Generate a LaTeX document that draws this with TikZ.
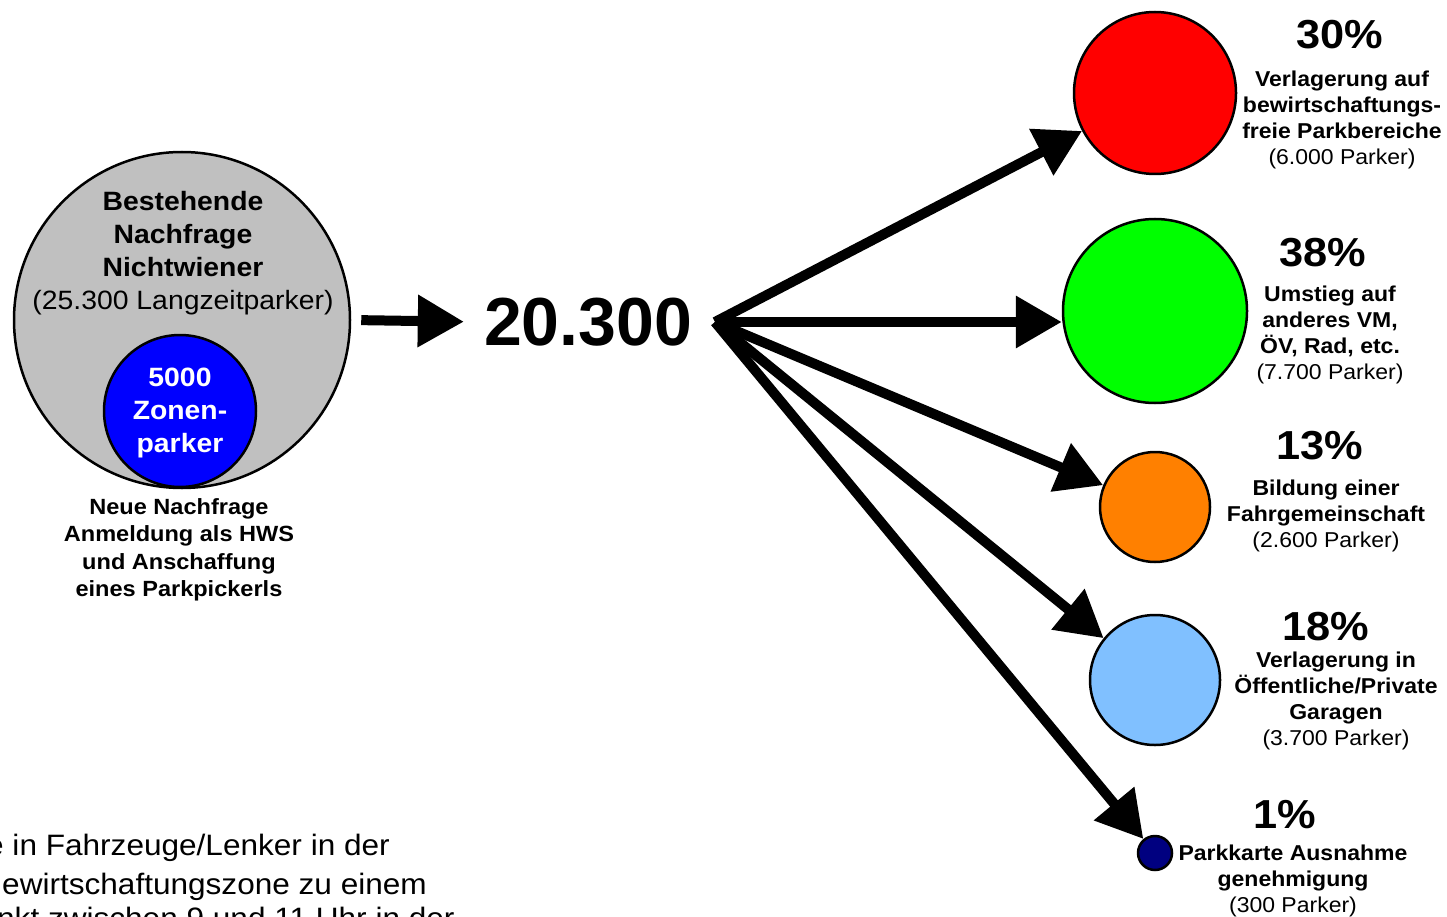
\documentclass[tikz,border=0pt]{standalone}
\usepackage{fontspec}
\setmainfont[FakeStretch=1.07]{Liberation Sans}
\newfontfamily\plainfont{Liberation Sans}
\usetikzlibrary{arrows.meta}

\definecolor{discgray}{HTML}{C0C0C0}
\definecolor{discblue}{HTML}{0000FF}
\definecolor{discred}{HTML}{FF0000}
\definecolor{discgreen}{HTML}{00FF00}
\definecolor{discorange}{HTML}{FF8000}
\definecolor{disclight}{HTML}{80C0FF}
\definecolor{discnavy}{HTML}{000080}

\tikzset{
  disc/.style={circle, draw=black, line width=2.5pt, inner sep=0pt, minimum size=#1},
  bigarrow/.style={line width=10pt, -{Triangle[length=46pt,width=50pt]}},
  pct/.style={inner sep=0pt, font=\fontsize{40.5}{42}\selectfont\bfseries},
  lbl/.style={align=center, inner sep=0pt, font=\fontsize{21.5}{26}\selectfont\bfseries},
  note/.style={anchor=base west, inner sep=0pt, font=\fontsize{29.5}{39}\selectfont},
}

\begin{document}
\begin{tikzpicture}[x=1pt,y=-1pt]
\useasboundingbox (0,0) rectangle (1447,917);
\clip (0,0) rectangle (1447,917);

%Shape: Circle
\node (gray) [disc=336pt, fill=discgray] at (182,320) {};
%Shape: Circle
\node (blue) [disc=152pt, fill=discblue] at (180,411) {};

% Text Node
\node (grayText) [align=center, inner sep=0pt, font=\fontsize{26.5}{33}\selectfont] at (183,253)
  {\textbf{Bestehende}\\ \textbf{Nachfrage}\\ \textbf{Nichtwiener}\\ (25.300 Langzeitparker)};
% Text Node
\node (blueText) [align=center, inner sep=0pt, text=white, font=\fontsize{26.5}{33}\selectfont\bfseries] at (180,413)
  {5000\\ Zonen-\\ parker};
% Text Node
\node (newText) [lbl, font=\fontsize{22}{27.5}\selectfont\bfseries] at (179,550)
  {Neue Nachfrage\\ Anmeldung als HWS\\ und Anschaffung\\ eines Parkpickerls};

% Text Node
\node (total) [inner sep=0pt, font=\plainfont\fontsize{68}{70}\selectfont\bfseries] at (588,322) {20.300};
\coordinate (hub) at (715,322);

%Shape: Circle
\node (red) [disc=162pt, fill=discred] at (1155,93) {};
%Shape: Circle
\node (green) [disc=184pt, fill=discgreen] at (1155,311) {};
%Shape: Circle
\node (orange) [disc=110pt, fill=discorange] at (1155,507) {};
%Shape: Circle
\node (light) [disc=130pt, fill=disclight] at (1155,680) {};
%Shape: Circle
\node (navy) [disc=34pt, fill=discnavy] at (1155,853) {};

%Straight Lines
\draw [bigarrow, shorten <=10pt, shorten >=20pt] (gray.east) -- (total.west);
%Straight Lines
\draw [bigarrow] (hub) -- (red);
%Straight Lines
\draw [bigarrow] (hub) -- (hub -| green.west);
%Straight Lines
\draw [bigarrow] (hub) -- (orange);
%Straight Lines
\draw [bigarrow] (hub) -- (light);
%Straight Lines
\draw [bigarrow] (hub) -- (navy);

% Text Node
\node (redPct) [pct] at (1340,35) {30\%};
\node (redText) [lbl] at (1342,120)
  {Verlagerung auf\\ bewirtschaftungs-\\ freie Parkbereiche\\ \mdseries(6.000 Parker)};
% Text Node
\node (greenPct) [pct] at (1323,253) {38\%};
\node (greenText) [lbl] at (1330,335)
  {Umstieg auf\\ anderes VM,\\ ÖV, Rad, etc.\\ \mdseries(7.700 Parker)};
% Text Node
\node (orangePct) [pct] at (1320,446) {13\%};
\node (orangeText) [lbl] at (1326,516)
  {Bildung einer\\ Fahrgemeinschaft\\ \mdseries(2.600 Parker)};
% Text Node
\node (lightPct) [pct] at (1326,627) {18\%};
\node (lightText) [lbl] at (1336,701)
  {Verlagerung in\\ Öffentliche/Private\\ Garagen\\ \mdseries(3.700 Parker)};
% Text Node
\node (navyPct) [pct] at (1285,815) {1\%};
\node (navyText) [lbl] at (1293,881)
  {Parkkarte Ausnahme\\ genehmigung\\ \mdseries(300 Parker)};

% Text Node
\node (note1) [note] at (-14,855) {e in Fahrzeuge/Lenker in der};
\node (note2) [note] at (2,894) {ewirtschaftungszone zu einem};
\node (note3) [note] at (-3,928) {nkt zwischen 9 und 11 Uhr in der};
\end{tikzpicture}
\end{document}
